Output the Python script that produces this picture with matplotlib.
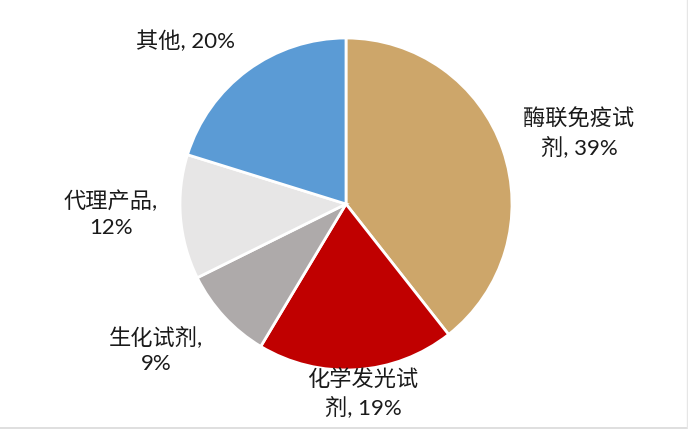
import matplotlib
matplotlib.use("Agg")
import matplotlib.pyplot as plt
from matplotlib.lines import Line2D

plt.rcParams['font.family'] = ['Lato', 'Noto Sans CJK SC', 'DejaVu Sans']

# data
labels = ['酶联免疫试\n剂, 39%', '化学发光试\n剂, 19%', '生化试剂,\n9%', '代理产品,\n12%', '其他, 20%']
shares = [39, 19, 9, 12, 20]
colors = ['#CDA66A', '#C00000', '#AEAAAA', '#E7E6E6', '#5B9BD5']
# label centres in pixel coords (x, y from top)
label_pos = [(579, 133), (363, 394), (156, 350), (111, 214), (186, 41)]

W, H = 688, 429
fig = plt.figure(figsize=(W / 100, H / 100), dpi=100)
ax = fig.add_axes([0, 0, 1, 1])

ax.pie(shares, colors=colors, startangle=90, counterclock=False,
       center=(346, H - 204), radius=166,
       wedgeprops=dict(edgecolor='white', linewidth=2))
ax.set_xlim(0, W)
ax.set_ylim(0, H)
ax.set_aspect('equal')
ax.axis('off')

for lab, (x, y) in zip(labels, label_pos):
    ax.text(x, H - y, lab, ha='center', va='center', fontsize=16,
            color='#1a1a1a', linespacing=1.35)

# thin grey border at bottom and right
fig.add_artist(Line2D([0, 1], [0.003, 0.003], transform=fig.transFigure, color='#d9d9d9', lw=1.2))
fig.add_artist(Line2D([0.998, 0.998], [0, 1], transform=fig.transFigure, color='#e6e6e6', lw=1.0))

fig.savefig('out.png', dpi=100)
